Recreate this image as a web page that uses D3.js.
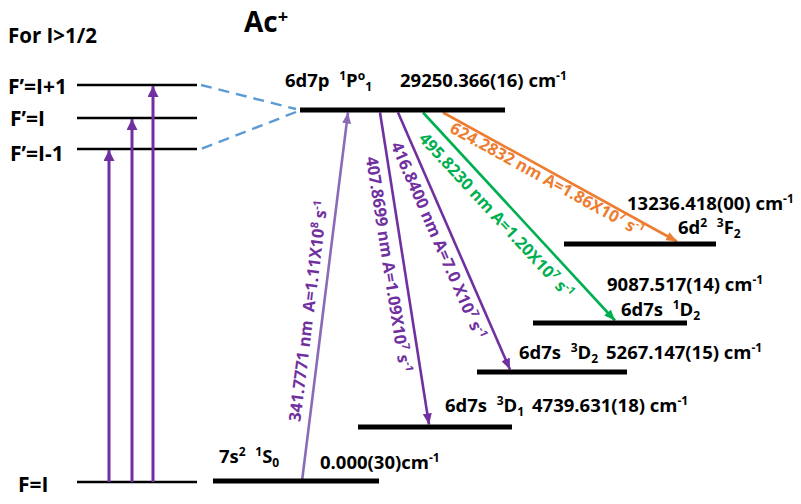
<!DOCTYPE html>
<html><head><meta charset="utf-8">
<script src="https://cdn.jsdelivr.net/npm/d3@7"></script>
<style>
html,body{margin:0;padding:0;background:#fff;}
svg{display:block;font-family:"Open Sans",sans-serif;font-weight:bold;}
text{white-space:pre;}
</style></head><body>
<svg id="chart" width="801" height="504"></svg>
<script>
// ---- Ac+ energy levels (lowest first) ----
const levelConfigs = ["7s^{2}", "6d7s", "6d7s", "6d7s", "6d^{2}", "6d7p"];
const levelTerms = ["^{1}S_{0}", "^{3}D_{1}", "^{3}D_{2}", "^{1}D_{2}", "^{3}F_{2}", "^{1}P^{o}_{1}"];
const levelEnergies = [0.000, 4739.631, 5267.147, 9087.517, 13236.418, 29250.366];
const levelUncertainties = ["30", "18", "15", "14", "00", "16"];
const levelUnitGap = ["", " ", " ", " ", " ", " "];

// ---- transitions between the 6d7p 1Po1 level and the lower levels ----
const transitionLower = [0, 1, 2, 3, 4];
const transitionWavelengths = [341.7771, 407.8699, 416.8400, 495.8230, 624.2832];
const transitionRates = ["1.11", "1.09", "7.0 ", "1.20", "1.86"];
const transitionExponents = [8, 7, 7, 7, 7];

// ---- hyperfine sketch ----
const hyperfineUpper = ["F’=I+1", "F’=I", "F’=I-1"];
const hyperfineLower = "F=I";
const title = "Ac^{+}";
const subtitle = "For I>1/2";

// ---- layout ----
const UPPER = 5;
const svg = d3.select("#chart");

// schematic (non-linear) energy axis
const y = d3.scaleLinear().domain(levelEnergies).range([481, 427, 372, 323, 244, 110]);

const levelLayout = [
  {x0: 213, x1: 379, term: [219, -18], energy: [320, -12]},
  {x0: 358, x1: 512, term: [445, -15], energy: [532, -15]},
  {x0: 477, x1: 627, term: [519, -13], energy: [606, -13]},
  {x0: 533, x1: 687, term: [621, -7],  energy: [607, -32]},
  {x0: 564, x1: 716, term: [678, -10], energy: [627, -34]},
  {x0: 300, x1: 505, term: [285, -23], energy: [400, -23]}
];

const transitionLayout = [
  {xUp: 348, xLow: 302, t: 0.456, d: 15, line: "#8a6bb8", label: "#7030A0", gap: "  "},
  {xUp: 380, xLow: 429, t: 0.479, d: 15, line: "#7030A0", label: "#7030A0", gap: " "},
  {xUp: 398, xLow: 510, t: 0.476, d: 14, line: "#7030A0", label: "#7030A0", gap: " "},
  {xUp: 423, xLow: 615, t: 0.443, d: 16, line: "#00B050", label: "#00B050", gap: " "},
  {xUp: 443, xLow: 677, t: 0.462, d: 8,  line: "#ED7D31", label: "#ED7D31", gap: " "}
];

const hf = {x0: 77, x1: 197, yUpper: [85, 118, 149], yLower: 482, arrowX: [153, 132, 109],
            labelX: [8, 10, 10], labelDy: [9, 8, 12]};

// text with ^{sup} and _{sub} pieces
function richText(sel, str, size, supShift = 0.4) {
  const re = /(\^|_)\{([^}]*)\}|([^^_]+)/g;
  let m, cur = 0;
  while ((m = re.exec(str))) {
    let target = 0, fs = size, txt;
    if (m[1]) {
      txt = m[2];
      fs = size * 0.65;
      target = m[1] === "^" ? -size * supShift : size * 0.22;
    } else txt = m[3];
    sel.append("tspan").attr("font-size", fs).attr("dy", target - cur).text(txt);
    cur = target;
  }
  return sel;
}

// arrowhead markers
const defs = svg.append("defs");
function marker(id, color, len, wid) {
  defs.append("marker").attr("id", id)
    .attr("markerUnits", "userSpaceOnUse")
    .attr("markerWidth", len).attr("markerHeight", wid)
    .attr("refX", len).attr("refY", wid / 2)
    .attr("orient", "auto")
    .append("path").attr("d", `M0,0L${len},${wid / 2}L0,${wid}Z`).attr("fill", color);
}
transitionLayout.forEach((L, i) => marker("m" + i, L.line, 11, 9));
marker("mhf", "#7030A0", 11, 11);

// ---- title ----
richText(svg.append("text").attr("x", 244).attr("y", 32).attr("font-size", 28), title, 28, 0.33);
richText(svg.append("text").attr("x", 8).attr("y", 43).attr("font-size", 20.5), subtitle, 20.5);

// ---- hyperfine sketch ----
const HFS = 21;
const gHf = svg.append("g");
gHf.selectAll("line.hfu").data(hyperfineUpper).join("line")
  .attr("x1", hf.x0).attr("x2", hf.x1)
  .attr("y1", (d, i) => hf.yUpper[i]).attr("y2", (d, i) => hf.yUpper[i])
  .attr("stroke", "#000").attr("stroke-width", 2.6);
gHf.append("line").attr("x1", hf.x0).attr("x2", hf.x1)
  .attr("y1", hf.yLower).attr("y2", hf.yLower)
  .attr("stroke", "#000").attr("stroke-width", 2.6);
gHf.selectAll("text.hfu").data(hyperfineUpper).join("text")
  .attr("x", (d, i) => hf.labelX[i]).attr("y", (d, i) => hf.yUpper[i] + hf.labelDy[i])
  .attr("font-size", HFS).text(d => d);
gHf.append("text").attr("x", 18).attr("y", hf.yLower + 10).attr("font-size", HFS).text(hyperfineLower);
gHf.selectAll("line.hfa").data(hyperfineUpper).join("line")
  .attr("x1", (d, i) => hf.arrowX[i]).attr("x2", (d, i) => hf.arrowX[i])
  .attr("y1", hf.yLower).attr("y2", (d, i) => hf.yUpper[i] + 1)
  .attr("stroke", "#7030A0").attr("stroke-width", 3)
  .attr("marker-end", "url(#mhf)");

// dashed connectors to the upper level
const yUp = y(levelEnergies[UPPER]);
gHf.append("line").attr("x1", 201).attr("y1", hf.yUpper[0]).attr("x2", 296).attr("y2", yUp - 1)
  .attr("stroke", "#5B9BD5").attr("stroke-width", 2.4).attr("stroke-dasharray", "11,7");
gHf.append("line").attr("x1", 296).attr("y1", yUp + 2).attr("x2", 201).attr("y2", hf.yUpper[2])
  .attr("stroke", "#5B9BD5").attr("stroke-width", 2.4).attr("stroke-dasharray", "11,7");

// ---- transitions ----
const gT = svg.append("g");
transitionWavelengths.forEach((wl, i) => {
  const L = transitionLayout[i];
  const lo = transitionLower[i];
  const yUpEdge = y(levelEnergies[UPPER]) + 2.5;
  const yLo = y(levelEnergies[lo]);
  let x1, y1, x2, y2, s;
  if (i === 0) { // absorption from the ground state
    x1 = L.xLow; y1 = yLo; x2 = L.xUp; y2 = yUpEdge; s = -1;
  } else {
    x1 = L.xUp; y1 = yUpEdge; x2 = L.xLow; y2 = yLo - 2.5; s = 1;
  }
  gT.append("line").attr("x1", x1).attr("y1", y1).attr("x2", x2).attr("y2", y2)
    .attr("stroke", L.line).attr("stroke-width", 2.6)
    .attr("marker-end", `url(#m${i})`);
  const th = Math.atan2(y2 - y1, x2 - x1);
  const px = x1 + (x2 - x1) * L.t, py = y1 + (y2 - y1) * L.t;
  const cx = px + s * L.d * -Math.sin(th), cy = py + s * L.d * Math.cos(th);
  const fs = 16.5;
  const label = `${wl.toFixed(4)} nm${L.gap}A=${transitionRates[i]}X10^{${transitionExponents[i]}} s^{-1}`;
  const t = gT.append("text")
    .attr("transform", `translate(${cx},${cy}) rotate(${th * 180 / Math.PI})`)
    .attr("text-anchor", "middle").attr("y", fs * 0.36)
    .attr("font-size", fs).attr("fill", L.label);
  richText(t, label, fs);
});

// ---- energy levels ----
const gL = svg.append("g");
gL.selectAll("line").data(levelEnergies).join("line")
  .attr("x1", (d, i) => levelLayout[i].x0).attr("x2", (d, i) => levelLayout[i].x1)
  .attr("y1", d => y(d)).attr("y2", d => y(d))
  .attr("stroke", "#000").attr("stroke-width", 5);

const LFS = 18.5;
levelEnergies.forEach((E, i) => {
  const L = levelLayout[i];
  richText(gL.append("text").attr("x", L.term[0]).attr("y", y(E) + L.term[1]).attr("font-size", LFS),
    `${levelConfigs[i]}  ${levelTerms[i]}`, LFS);
  richText(gL.append("text").attr("x", L.energy[0]).attr("y", y(E) + L.energy[1]).attr("font-size", LFS),
    `${E.toFixed(3)}(${levelUncertainties[i]})${levelUnitGap[i]}cm^{-1}`, LFS);
});
</script>
</body></html>
